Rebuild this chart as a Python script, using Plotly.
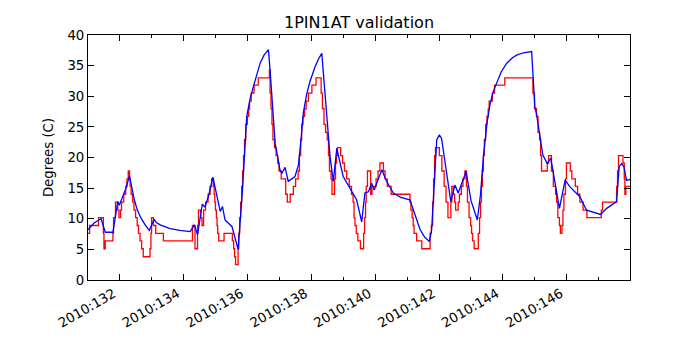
import plotly.graph_objects as go

# time axis in day-of-year 2010 (decimal days)
tick_days = [132, 134, 136, 138, 140, 142, 144, 146]
tick_labels = ["2010:%d" % d for d in tick_days]
minor_days = [133, 135, 137, 139, 141, 143, 145, 147]

# model prediction (blue)
model_days = [
    131.01, 131.20, 131.42, 131.47, 131.55, 131.79, 131.94, 131.99, 132.10, 132.20,
    132.31, 132.40, 132.46, 132.55, 132.67, 132.80, 132.93, 133.08, 133.15, 133.27,
    133.58, 133.89, 134.21, 134.34, 134.44, 134.59, 134.67, 134.80, 134.92, 135.15,
    135.22, 135.30, 135.52, 135.71, 135.85, 135.98, 136.08, 136.19, 136.30, 136.40,
    136.52, 136.66, 136.71, 136.87, 137.02, 137.08, 137.18, 137.28, 137.49, 137.60,
    137.68, 137.75, 137.85, 137.96, 138.12, 138.22, 138.33, 138.49, 138.59, 138.69,
    138.80, 139.00, 139.27, 139.42, 139.58, 139.68, 139.79, 139.89, 139.97, 140.21,
    140.35, 140.57, 140.80, 141.09, 141.20, 141.41, 141.55, 141.70, 141.77, 141.93,
    142.01, 142.08, 142.37, 142.50, 142.60, 142.85, 143.00, 143.20, 143.30, 143.39,
    143.50, 143.60, 143.70, 143.81, 143.95, 144.12, 144.30, 144.43, 144.65, 144.90,
    145.00, 145.05, 145.25, 145.39, 145.50, 145.77, 145.95, 146.10, 146.41, 146.62,
    147.06, 147.25, 147.56, 147.64, 147.72, 147.79, 147.87, 147.98,
]
model_temp = [
    8.2, 9.3, 10.0, 9.2, 7.8, 7.8, 12.8, 12.2, 13.8, 15.0,
    17.0, 14.5, 13.1, 11.5, 10.1, 9.0, 8.1, 9.9, 9.4, 9.0,
    8.4, 8.1, 7.9, 9.0, 7.4, 12.4, 11.9, 14.0, 16.8, 11.2,
    12.0, 9.8, 8.7, 5.0, 15.0, 26.7, 29.5, 31.6, 33.8, 35.4,
    36.7, 37.6, 34.3, 22.3, 18.0, 17.4, 18.4, 16.1, 16.9, 18.8,
    23.0, 27.2, 30.2, 32.4, 34.8, 36.0, 37.0, 26.1, 20.1, 16.1,
    21.5, 16.9, 14.4, 13.1, 9.5, 14.2, 14.4, 15.8, 14.7, 18.0,
    16.2, 14.2, 13.5, 13.1, 11.4, 8.2, 7.0, 6.3, 8.2, 22.9,
    23.7, 23.1, 12.8, 15.5, 14.2, 17.7, 13.0, 9.8, 14.0, 20.1,
    25.5, 28.8, 30.8, 32.1, 34.0, 35.4, 36.3, 36.7, 37.1, 37.3,
    28.3, 27.2, 20.4, 19.0, 19.9, 11.7, 16.3, 15.2, 13.6, 11.4,
    10.7, 11.7, 12.8, 18.5, 19.0, 18.5, 16.3, 16.4,
]

# telemetry (red), quantized, value held until the next change
tlm_days = [
    131.01, 131.06, 131.34, 131.49, 131.51, 131.55, 131.79, 131.81, 131.87, 131.94,
    131.98, 132.03, 132.06, 132.13, 132.19, 132.23, 132.27, 132.31, 132.33, 132.36,
    132.41, 132.45, 132.50, 132.55, 132.59, 132.64, 132.69, 132.74, 132.95, 132.98,
    133.00, 133.06, 133.13, 133.37, 134.28, 134.36, 134.44, 134.47, 134.54, 134.58,
    134.63, 134.69, 134.77, 134.83, 134.88, 134.94, 134.96, 134.98, 135.00, 135.03,
    135.05, 135.07, 135.10, 135.27, 135.53, 135.57, 135.60, 135.63, 135.71, 135.73,
    135.76, 135.79, 135.82, 135.85, 135.88, 135.91, 135.95, 136.00, 136.04, 136.07,
    136.12, 136.21, 136.34, 136.69, 136.71, 136.74, 136.77, 136.80, 136.85, 136.90,
    136.95, 136.99, 137.06, 137.20, 137.25, 137.34, 137.44, 137.51, 137.59, 137.63,
    137.67, 137.70, 137.74, 137.79, 137.84, 137.91, 138.02, 138.15, 138.31, 138.35,
    138.40, 138.45, 138.50, 138.54, 138.57, 138.62, 138.65, 138.73, 138.76, 138.79,
    138.82, 138.92, 138.98, 139.04, 139.11, 139.19, 139.26, 139.31, 139.34, 139.37,
    139.41, 139.46, 139.54, 139.64, 139.67, 139.70, 139.72, 139.76, 139.86, 139.90,
    140.03, 140.09, 140.15, 140.26, 140.31, 140.38, 140.50, 141.09, 141.12, 141.16,
    141.19, 141.22, 141.30, 141.46, 141.72, 141.76, 141.80, 141.83, 141.86, 141.89,
    142.01, 142.09, 142.16, 142.22, 142.28, 142.37, 142.40, 142.45, 142.49, 142.52,
    142.60, 142.64, 142.70, 142.75, 142.81, 142.86, 142.89, 142.94, 142.99, 143.02,
    143.05, 143.10, 143.23, 143.27, 143.30, 143.33, 143.36, 143.39, 143.42, 143.46,
    143.50, 143.54, 143.57, 143.67, 143.74, 144.06, 144.94, 144.99, 145.05, 145.10,
    145.15, 145.18, 145.21, 145.39, 145.43, 145.52, 145.58, 145.65, 145.68, 145.72,
    145.77, 145.80, 145.85, 145.88, 145.91, 145.96, 145.99, 146.11, 146.16, 146.27,
    146.34, 146.41, 146.51, 146.63, 147.08, 147.12, 147.56, 147.59, 147.62, 147.76,
    147.80, 147.82, 147.85, 147.98,
]
tlm_temp = [
    7.6, 8.9, 10.2, 7.6, 5.1, 6.4, 7.6, 10.2, 12.7, 11.4,
    10.2, 11.4, 12.7, 14.0, 15.3, 16.5, 17.8, 16.5, 15.3, 14.0,
    12.7, 11.4, 10.2, 8.9, 7.6, 6.4, 5.1, 3.8, 5.1, 7.6,
    10.2, 8.9, 7.6, 6.4, 8.9, 5.1, 8.9, 11.4, 10.2, 8.9,
    11.4, 12.7, 14.0, 15.3, 16.5, 15.3, 14.0, 12.7, 11.4, 10.2,
    8.9, 7.6, 6.4, 7.6, 6.4, 5.1, 3.8, 2.5, 5.1, 7.6,
    10.2, 12.7, 15.3, 17.8, 20.3, 22.9, 25.4, 26.7, 27.9, 29.2,
    30.5, 31.8, 33.0, 34.3, 30.5, 28.0, 25.4, 22.9, 21.6, 20.3,
    19.1, 17.8, 16.5, 14.0, 12.7, 14.0, 15.3, 16.5, 17.8, 20.3,
    22.9, 25.4, 26.7, 27.9, 29.2, 30.5, 31.8, 33.0, 30.5, 28.0,
    25.4, 24.1, 22.9, 20.3, 17.8, 16.5, 14.0, 16.5, 19.1, 20.3,
    21.6, 20.3, 19.1, 17.8, 16.5, 15.3, 14.0, 12.7, 10.2, 8.9,
    7.6, 6.4, 5.1, 7.6, 10.2, 12.7, 15.3, 17.8, 14.0, 15.3,
    16.5, 17.8, 19.1, 17.8, 16.5, 15.3, 14.0, 12.7, 11.4, 10.2,
    8.9, 7.6, 6.4, 5.1, 7.6, 8.9, 12.7, 16.5, 20.3, 21.6,
    20.3, 17.8, 15.3, 12.7, 10.2, 12.7, 15.3, 14.0, 12.7, 11.4,
    12.7, 14.0, 15.3, 16.5, 17.8, 15.3, 12.7, 10.2, 8.9, 7.6,
    6.4, 5.1, 7.6, 10.2, 12.7, 15.3, 17.8, 20.3, 22.9, 25.4,
    26.7, 27.9, 29.2, 30.5, 31.8, 33.0, 30.5, 28.0, 26.7, 24.1,
    22.9, 20.3, 17.8, 19.1, 20.3, 17.8, 15.3, 14.0, 12.7, 10.2,
    8.9, 7.6, 8.9, 11.4, 14.0, 16.5, 19.1, 17.8, 16.5, 15.3,
    14.0, 12.7, 11.4, 10.2, 11.4, 12.7, 15.3, 17.8, 20.3, 19.1,
    16.5, 14.0, 15.3, 15.3,
]

FONT = "DejaVu Sans"

fig = go.Figure()
fig.add_trace(go.Scatter(
    x=tlm_days, y=tlm_temp, mode="lines", line_shape="hv",
    line=dict(color="#ff0000", width=1.3), name="telemetry",
))
fig.add_trace(go.Scatter(
    x=model_days, y=model_temp, mode="lines",
    line=dict(color="#0000ff", width=1.3), name="model",
))

axis_common = dict(
    showline=True, linecolor="black", linewidth=1, mirror="ticks",
    ticks="inside", tickcolor="black", showgrid=False, zeroline=False,
    tickfont=dict(family=FONT, size=13.3, color="black"),
)

# the page body has an 8px margin, so margins are shifted by 8px
fig.update_layout(
    width=700, height=350,
    paper_bgcolor="white", plot_bgcolor="white",
    showlegend=False,
    margin=dict(l=80, r=78, t=27, b=78),
    title=dict(
        text="1PIN1AT validation", x=0.5, xref="paper", xanchor="center",
        y=1 - 14 / 350, yref="container", yanchor="middle",
        font=dict(family=FONT, size=16, color="black"),
    ),
    xaxis=dict(
        range=[131.01, 147.98], tickmode="array",
        tickvals=tick_days, ticktext=tick_labels, tickangle=-30, ticklen=6,
        ticklabelshift=-6,
        minor=dict(tickmode="array", tickvals=minor_days, ticks="inside",
                   ticklen=3, tickcolor="black"),
        **axis_common,
    ),
    yaxis=dict(
        range=[0, 40], tickmode="linear", tick0=0, dtick=5, ticklen=6,
        title=dict(text="Degrees (C)", standoff=10,
                   font=dict(family=FONT, size=13.3, color="black")),
        **axis_common,
    ),
)

fig.write_html("out.html")
